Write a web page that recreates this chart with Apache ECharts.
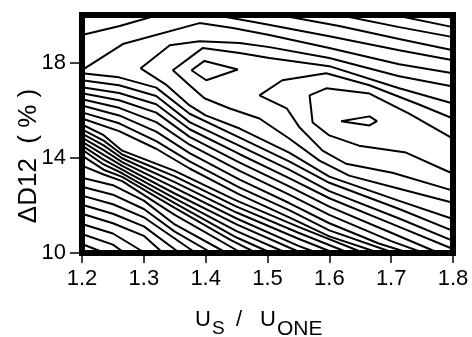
<!DOCTYPE html>
<html>
<head>
<meta charset="utf-8">
<script src="https://cdn.jsdelivr.net/npm/echarts@6.0.0/dist/echarts.min.js"></script>
<style>
  html, body { margin: 0; padding: 0; background: #fff; }
  #chart { width: 472px; height: 337px; }
</style>
</head>
<body>
<div id="chart"></div>
<script>
// contour lines, [x = Us/Uone, y = ΔD12 %]
const yTickValues = [10, 14, 18];

const lineT1 = [[1.2, 19.16], [1.261, 19.54], [1.323, 20.0]];
const lineU1 = [[1.415, 20], [1.487, 19.66], [1.6, 19.11], [1.713, 18.52], [1.8, 18.1]];
const lineU2 = [[1.519, 20], [1.616, 19.54], [1.713, 18.99], [1.8, 18.52]];
const lineU3 = [[1.616, 20], [1.713, 19.49], [1.8, 19.07]];
const lineU4 = [[1.705, 20], [1.8, 19.49]];
const lineU5 = [[1.777, 20], [1.8, 19.87]];
const lineT2 = [[1.2, 17.68], [1.266, 18.78], [1.39, 19.66], [1.444, 19.45], [1.503, 19.16], [1.6, 18.61], [1.713, 17.93], [1.8, 17.55]];
const lineT3 = [[1.8, 17.0], [1.713, 17.43], [1.6, 18.19], [1.503, 18.65], [1.455, 18.82], [1.39, 18.9], [1.342, 18.73], [1.295, 17.76],
  [1.337, 17.05], [1.374, 16.2], [1.4, 15.78], [1.455, 15.23], [1.535, 14.22], [1.6, 13.21], [1.713, 12.19], [1.8, 11.43]];
const loopBoth = [[1.8, 16.28], [1.713, 16.92], [1.6, 17.85], [1.503, 18.19], [1.455, 18.4], [1.395, 18.61], [1.347, 17.68],
  [1.374, 17.05], [1.398, 16.5], [1.439, 16.07], [1.487, 15.65], [1.535, 14.81], [1.584, 13.88], [1.632, 13.25], [1.713, 12.7], [1.8, 12.11]];
const leftPeak = [[1.377, 17.68], [1.398, 18.07], [1.452, 17.71], [1.401, 17.26], [1.377, 17.68]];
const rightOuter = [[1.8, 15.65], [1.745, 16.24], [1.665, 17.05], [1.595, 17.55], [1.524, 17.26], [1.487, 16.62],
  [1.531, 16.08], [1.552, 15.27], [1.589, 14.3], [1.627, 13.75], [1.702, 13.37], [1.8, 12.62]];
const rightInner = [[1.8, 14.81], [1.729, 15.86], [1.665, 16.7], [1.595, 16.92], [1.568, 16.62],
  [1.573, 15.48], [1.6, 14.94], [1.648, 14.51], [1.724, 14.22], [1.8, 13.33]];
const rightPeak = [[1.619, 15.54], [1.665, 15.74], [1.677, 15.54], [1.665, 15.36], [1.619, 15.54]];

const lowerLines = [
  [[1.2, 17.55], [1.26, 17.38], [1.32, 16.95], [1.374, 15.85], [1.455, 14.85], [1.535, 13.85], [1.6, 12.95], [1.713, 11.85], [1.8, 10.93]],
  [[1.2, 17.26], [1.26, 17.05], [1.32, 16.6], [1.374, 15.5], [1.455, 14.5], [1.535, 13.5], [1.6, 12.6], [1.713, 11.45], [1.8, 10.51]],
  [[1.2, 16.96], [1.26, 16.72], [1.32, 16.25], [1.374, 15.2], [1.455, 14.15], [1.535, 13.15], [1.6, 12.3], [1.713, 11.1], [1.8, 10.17]],
  [[1.2, 16.71], [1.26, 16.42], [1.32, 15.9], [1.374, 14.88], [1.455, 13.8], [1.535, 12.8], [1.6, 11.95], [1.7, 10.85], [1.777, 10]],
  [[1.2, 16.46], [1.26, 16.1], [1.32, 15.5], [1.374, 14.55], [1.455, 13.45], [1.535, 12.45], [1.6, 11.6], [1.7, 10.5], [1.753, 10]],
  [[1.2, 16.2], [1.26, 15.78], [1.32, 15.1], [1.374, 14.2], [1.455, 13.08], [1.535, 12.1], [1.6, 11.25], [1.68, 10.4], [1.729, 10]],
  [[1.2, 15.91], [1.26, 15.45], [1.32, 14.7], [1.374, 13.85], [1.455, 12.75], [1.535, 11.8], [1.6, 10.95], [1.705, 10]],
  [[1.2, 15.65], [1.26, 15.12], [1.32, 14.38], [1.374, 13.55], [1.455, 12.45], [1.535, 11.5], [1.6, 10.7], [1.681, 10]],
  [[1.2, 15.4], [1.235, 14.95], [1.265, 14.3], [1.35, 13.45], [1.45, 12.2], [1.55, 11.1], [1.656, 10]],
  [[1.2, 15.19], [1.235, 14.72], [1.265, 14.14], [1.35, 13.22], [1.45, 11.95], [1.55, 10.85], [1.632, 10]],
  [[1.2, 15.02], [1.235, 14.52], [1.265, 13.98], [1.35, 12.98], [1.45, 11.7], [1.55, 10.6], [1.608, 10]],
  [[1.2, 14.85], [1.235, 14.32], [1.265, 13.82], [1.35, 12.74], [1.45, 11.45], [1.55, 10.3], [1.581, 10]],
  [[1.2, 14.68], [1.235, 14.12], [1.265, 13.66], [1.35, 12.5], [1.45, 11.2], [1.555, 10]],
  [[1.2, 14.51], [1.235, 13.92], [1.265, 13.5], [1.35, 12.3], [1.45, 10.92], [1.531, 10]],
  [[1.2, 14.35], [1.235, 13.72], [1.265, 13.35], [1.35, 12.1], [1.45, 10.65], [1.506, 10]],
  [[1.2, 14.09], [1.235, 13.5], [1.265, 13.2], [1.35, 11.9], [1.44, 10.55], [1.482, 10]],
  [[1.2, 13.67], [1.235, 13.3], [1.265, 13.02], [1.35, 11.6], [1.458, 10]],
  [[1.2, 13.16], [1.25, 12.85], [1.3, 12.2], [1.35, 11.2], [1.434, 10]],
  [[1.2, 12.78], [1.25, 12.45], [1.3, 11.85], [1.35, 10.9], [1.41, 10]],
  [[1.2, 12.41], [1.25, 12.05], [1.3, 11.5], [1.384, 10]],
  [[1.2, 12.03], [1.25, 11.65], [1.3, 11.12], [1.358, 10]],
  [[1.2, 11.65], [1.25, 11.25], [1.3, 10.72], [1.331, 10]],
  [[1.2, 11.22], [1.25, 10.82], [1.302, 10]],
  [[1.2, 10.8], [1.25, 10.35], [1.269, 10]],
  [[1.2, 10.38], [1.237, 10]]
];

const contours = [lineT1, lineU1, lineU2, lineU3, lineU4, lineU5, lineT2, lineT3, loopBoth,
  leftPeak, rightOuter, rightInner, rightPeak].concat(lowerLines);

const chart = echarts.init(document.getElementById('chart'));
const font = 'Liberation Sans, Arial, sans-serif';

const option = {
  animation: false,
  backgroundColor: '#fff',
  grid: {
    left: 82,
    right: 19,
    top: 15,
    bottom: 84,
    show: true,
    borderColor: '#000',
    borderWidth: 6, // thick frame
    backgroundColor: 'transparent'
  },
  xAxis: {
    type: 'value',
    min: 1.2,
    max: 1.8,
    interval: 0.1,
    axisLine: { show: false },
    splitLine: { show: false },
    axisTick: { show: true, length: 10, lineStyle: { color: '#000', width: 1.5 } },
    axisLabel: {
      color: '#000',
      fontSize: 22,
      fontFamily: font,
      margin: 15,
      formatter: function (v) { return v.toFixed(1); }
    }
  },
  yAxis: {
    type: 'value',
    min: 10,
    max: 20,
    axisLine: { show: false },
    splitLine: { show: false },
    axisTick: { show: true, length: 12, customValues: yTickValues, lineStyle: { color: '#000', width: 1.5 } },
    axisLabel: {
      color: '#000',
      fontSize: 22,
      fontFamily: font,
      margin: 16,
      customValues: yTickValues
    }
  },
  graphic: [
    { type: 'text', x: 29, y: 156, rotation: Math.PI / 2,
      style: { text: 'ΔD12  ( % )', fontSize: 26, fontFamily: font, fill: '#000', align: 'center', verticalAlign: 'middle' } },
    { type: 'text', x: 195, y: 320, style: { text: 'U', fontSize: 22, fontFamily: font, fill: '#000', verticalAlign: 'middle' } },
    { type: 'text', x: 212, y: 329, style: { text: 'S', fontSize: 19, fontFamily: font, fill: '#000', verticalAlign: 'middle' } },
    { type: 'text', x: 236, y: 320, style: { text: '/', fontSize: 22, fontFamily: font, fill: '#000', verticalAlign: 'middle' } },
    { type: 'text', x: 260, y: 320, style: { text: 'U', fontSize: 22, fontFamily: font, fill: '#000', verticalAlign: 'middle' } },
    { type: 'text', x: 277, y: 329, style: { text: 'ONE', fontSize: 21, fontFamily: font, fill: '#000', verticalAlign: 'middle' } }
  ],
  series: contours.map(function (pts) {
    return {
      type: 'line',
      data: pts,
      showSymbol: false,
      silent: true,
      clip: true,
      lineStyle: { color: '#000', width: 2 }
    };
  })
};
chart.setOption(option);
</script>
</body>
</html>
